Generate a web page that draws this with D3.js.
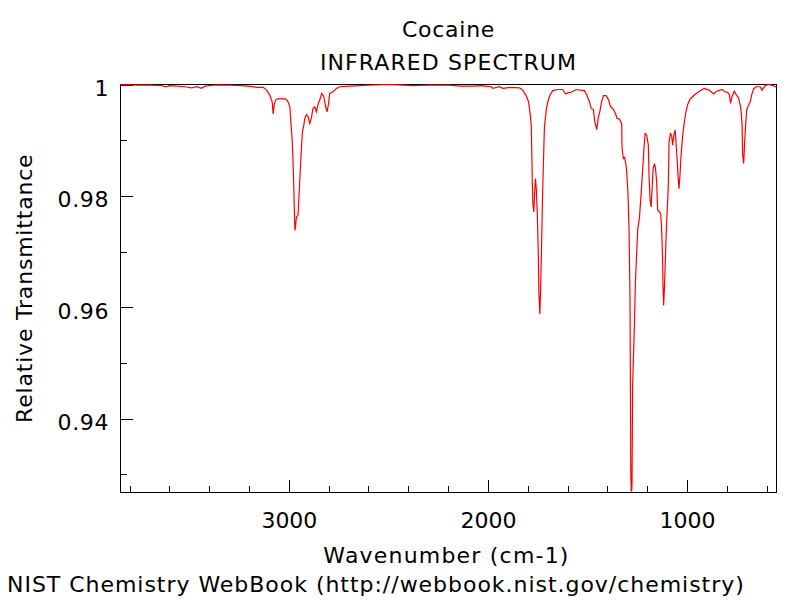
<!DOCTYPE html>
<html>
<head>
<meta charset="utf-8">
<script src="https://cdn.jsdelivr.net/npm/d3@7"></script>
<style>
  html, body { margin: 0; padding: 0; background: #fff; }
  svg { display: block; }
  text { font-family: "DejaVu Sans", sans-serif; font-size: 22px; fill: #000; }
</style>
</head>
<body>
<svg id="chart" width="800" height="600"></svg>
<script>
// ---- data ----
const wavenumber = [
  3846,3760,3700,3640,3620,3600,3560,3520,3490,3460,3440,3420,3380,3300,3240,3205,3160,3129,3112,3096,
  3084,3079,3074,3067,3057,3016,3004,2995,2990,2984,2979,2975,2970,2969,2962,2954,2949,2944,2937,2932,
  2925,2920,2912,2904,2895,2887,2879,2870,2862,2853,2845,2835,2825,2815,2808,2801,2795,2778,2761,2745,
  2694,2644,2600,2500,2420,2380,2300,2200,2134,2100,2072,2042,2010,1983,1975,1942,1925,1883,1841,1825,
  1808,1796,1787,1782,1779,1777,1774,1769,1766,1761,1757,1752,1747,1744,1739,1736,1731,1726,1721,1716,
  1707,1699,1687,1674,1649,1624,1610,1599,1582,1557,1515,1503,1490,1481,1470,1463,1453,1446,1436,1429,
  1419,1406,1393,1384,1373,1359,1351,1339,1328,1326,1319,1313,1306,1301,1296,1291,1286,1284,1282,1279,
  1276,1273,1264,1259,1252,1247,1239,1230,1225,1220,1215,1210,1202,1194,1190,1185,1180,1175,1170,1163,
  1158,1152,1147,1138,1132,1128,1123,1120,1117,1112,1107,1102,1097,1093,1090,1083,1077,1072,1069,1064,
  1059,1055,1050,1045,1040,1035,1030,1022,1013,1005,996,984,963,938,913,888,866,851,824,808,
  796,787,781,774,762,751,741,729,723,720,715,710,705,700,692,682,675,665,653,632,
  623,611,603,586,566,556,550
];
const transmittance = [
  1.0000,0.9999,0.9999,0.9998,0.9996,0.9998,0.9997,0.9996,0.9994,0.9996,0.9993,0.9997,0.9999,0.9999,0.9998,0.9997,0.9995,0.9995,0.9990,0.9981,
  0.9969,0.9947,0.9963,0.9972,0.9974,0.9974,0.9969,0.9960,0.9933,0.9904,0.9861,0.9810,0.9742,0.9738,0.9762,0.9765,0.9801,0.9837,0.9886,0.9915,
  0.9927,0.9939,0.9946,0.9943,0.9930,0.9940,0.9957,0.9960,0.9951,0.9965,0.9972,0.9984,0.9979,0.9960,0.9951,0.9965,0.9984,0.9987,0.9993,0.9996,
  0.9997,0.9998,0.9999,1.0000,0.9999,0.9998,0.9999,0.9999,0.9997,0.9997,0.9997,0.9998,0.9997,0.9996,0.9993,0.9996,0.9993,0.9995,0.9994,0.9990,
  0.9980,0.9969,0.9945,0.9924,0.9867,0.9825,0.9786,0.9771,0.9801,0.9831,0.9813,0.9771,0.9699,0.9627,0.9588,0.9621,0.9699,0.9792,0.9861,0.9924,
  0.9954,0.9969,0.9982,0.9989,0.9991,0.9991,0.9983,0.9985,0.9986,0.9991,0.9989,0.9981,0.9969,0.9957,0.9955,0.9933,0.9919,0.9939,0.9954,0.9969,
  0.9980,0.9980,0.9972,0.9960,0.9957,0.9948,0.9939,0.9938,0.9930,0.9885,0.9867,0.9869,0.9855,0.9834,0.9801,0.9741,0.9612,0.9451,0.9300,0.9262,
  0.9280,0.9456,0.9567,0.9645,0.9702,0.9741,0.9759,0.9804,0.9834,0.9861,0.9891,0.9912,0.9909,0.9891,0.9831,0.9792,0.9780,0.9813,0.9849,0.9858,
  0.9849,0.9825,0.9774,0.9771,0.9768,0.9747,0.9696,0.9633,0.9603,0.9645,0.9702,0.9753,0.9789,0.9825,0.9897,0.9912,0.9909,0.9891,0.9900,0.9912,
  0.9918,0.9897,0.9870,0.9837,0.9813,0.9837,0.9870,0.9906,0.9933,0.9951,0.9964,0.9974,0.9981,0.9988,0.9993,0.9990,0.9983,0.9988,0.9991,0.9987,
  0.9986,0.9982,0.9966,0.9978,0.9988,0.9981,0.9976,0.9957,0.9927,0.9873,0.9858,0.9897,0.9927,0.9954,0.9962,0.9969,0.9981,0.9992,0.9996,0.9996,
  0.9990,0.9996,0.9999,1.0000,0.9998,0.9996,0.9995
];
const xDomain = [3846, 550];
const yDomain = [0.9268, 1.0];
const xMajorTicks = [3000, 2000, 1000];
const xMinorTicks = [3800,3600,3400,3200,2800,2600,2400,2200,1800,1600,1400,1200,800,600];
const yMajorTicks = [0.94, 0.96, 0.98, 1.0];
const yMinorTicks = [0.93, 0.95, 0.97, 0.99];
const titleLines = ["Cocaine", "INFRARED SPECTRUM"];
const xLabel = "Wavenumber (cm-1)";
const yLabel = "Relative Transmittance";
const footer = "NIST Chemistry WebBook (http://webbook.nist.gov/chemistry)";

// ---- layout ----
const L = 120.5, R = 776.5, T = 84.5, B = 492;
const svg = d3.select("#chart");

const x = d3.scaleLinear().domain(xDomain).range([L, R]);
const y = d3.scaleLinear().domain(yDomain).range([B, T]);

const pts = wavenumber.map((w, i) => [w, transmittance[i]]);

svg.append("defs").append("clipPath").attr("id", "clip")
  .append("rect").attr("x", L).attr("y", T - 1).attr("width", R - L).attr("height", B - T + 0.5);

// frame
svg.append("rect")
  .attr("x", L).attr("y", T).attr("width", R - L).attr("height", B - T)
  .attr("fill", "none").attr("stroke", "#000").attr("stroke-width", 1)
  .attr("shape-rendering", "crispEdges");

// axes
const gxMinor = svg.append("g").attr("transform", `translate(0,${B})`)
  .call(d3.axisBottom(x).tickValues(xMinorTicks).tickSize(-6).tickFormat(""));
const gxMajor = svg.append("g").attr("transform", `translate(0,${B})`)
  .call(d3.axisBottom(x).tickValues(xMajorTicks).tickSize(-12).tickPadding(20.5).tickFormat(d3.format("d")));
const gyMinor = svg.append("g").attr("transform", `translate(${L},0)`)
  .call(d3.axisLeft(y).tickValues(yMinorTicks).tickSize(-6).tickFormat(""));
const gyMajor = svg.append("g").attr("transform", `translate(${L},0)`)
  .call(d3.axisLeft(y).tickValues(yMajorTicks).tickSize(-12).tickPadding(11.5)
    .tickFormat(d => d === 1 ? "1" : d3.format(".2f")(d)));

[gxMinor, gxMajor, gyMinor, gyMajor].forEach(g => {
  g.select(".domain").remove();
  g.selectAll("line").attr("stroke", "#000").attr("shape-rendering", "crispEdges");
  g.selectAll("text").attr("font-family", "DejaVu Sans").attr("font-size", 22).attr("fill", "#000");
});
gyMajor.selectAll("text").attr("dy", "0.5em").style("letter-spacing", "0.6px");

// spectrum line
svg.append("path")
  .datum(pts)
  .attr("clip-path", "url(#clip)")
  .attr("fill", "none")
  .attr("stroke", "#ff0000")
  .attr("stroke-width", 1.2)
  .attr("d", d3.line().x(d => x(d[0])).y(d => y(d[1])));

// titles & labels
const cx = (L + R) / 2;
svg.append("text").attr("x", cx).attr("y", 36.5).attr("text-anchor", "middle")
  .style("letter-spacing", "0.75px").text(titleLines[0]);
svg.append("text").attr("x", cx).attr("y", 69.5).attr("text-anchor", "middle")
  .style("letter-spacing", "1.1px").text(titleLines[1]);
svg.append("text").attr("x", cx - 2).attr("y", 563).attr("text-anchor", "middle")
  .style("letter-spacing", "1.2px").text(xLabel);
svg.append("text").attr("transform", `translate(31.5,${(T + B) / 2}) rotate(-90)`)
  .attr("text-anchor", "middle").style("letter-spacing", "0.8px").text(yLabel);
svg.append("text").attr("x", 7).attr("y", 591.5).attr("text-anchor", "start")
  .style("letter-spacing", "0.97px").text(footer);
</script>
</body>
</html>
